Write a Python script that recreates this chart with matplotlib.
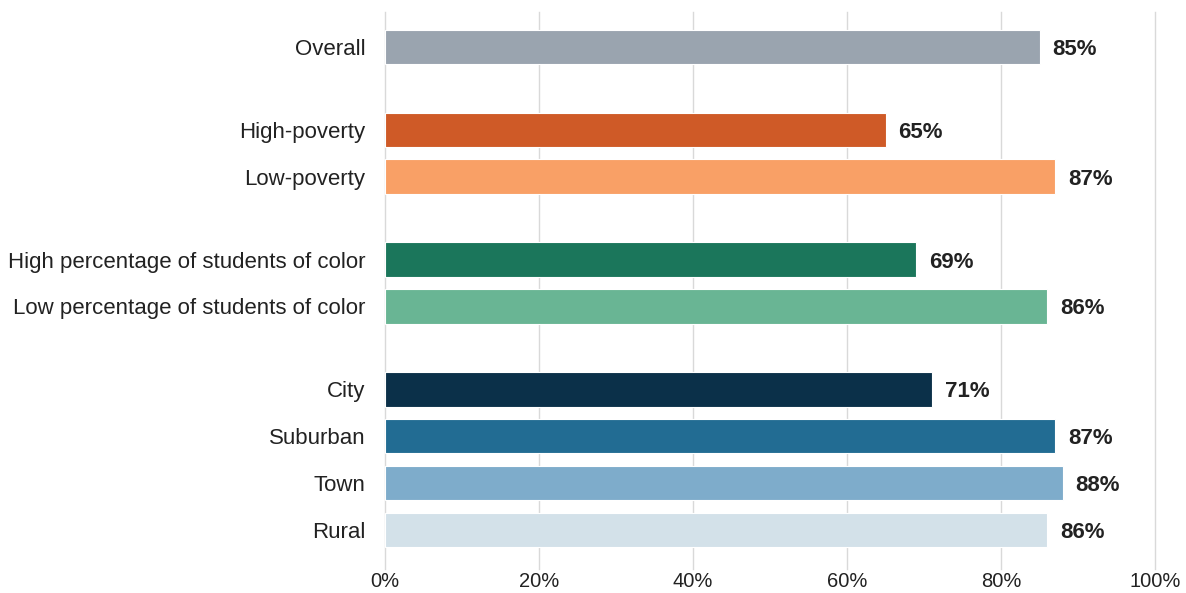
import matplotlib
matplotlib.use("Agg")
import matplotlib.pyplot as plt
from matplotlib.ticker import PercentFormatter

labels = ["Overall",
          "High-poverty", "Low-poverty",
          "High percentage of students of color", "Low percentage of students of color",
          "City", "Suburban", "Town", "Rural"]
values = [85, 65, 87, 69, 86, 71, 87, 88, 86]
groups = [1, 2, 2, 4]  # bars per group
colors = ["#9AA4AF",
          "#CF5A27", "#F9A066",
          "#1B765B", "#69B594",
          "#0B3049", "#226C93", "#7EACCB", "#D3E1E9"]

plt.rcParams["font.family"] = ["Liberation Sans", "DejaVu Sans"]

# y positions: unit spacing inside a group, extra gap between groups
gap = 0.77
ypos = []
y = 0.0
for n in groups:
    for i in range(n):
        ypos.append(y)
        y += 1
    y += gap

fig = plt.figure(figsize=(11.86, 5.93), dpi=100)
ax = fig.add_axes([385 / 1186, 24 / 593, 770 / 1186, 557 / 593])

ax.barh(ypos, values, height=0.73, color=colors, edgecolor="white", linewidth=0.8, zorder=3)
for yy, v in zip(ypos, values):
    ax.text(v + 1.7, yy, f"{v}%", va="center_baseline", ha="left", fontsize=16,
            fontweight="bold", color="#222222")

ax.set_xlim(0, 100)
ax.set_ylim(ypos[-1] + 0.83, -0.74)
ax.set_xticks(range(0, 101, 20))
ax.xaxis.set_major_formatter(PercentFormatter(decimals=0))
ax.set_yticks(ypos)
ax.set_yticklabels(labels)
ax.tick_params(axis="both", length=0, labelcolor="#222222")
ax.tick_params(axis="y", pad=14, labelsize=16)
ax.tick_params(axis="x", pad=2, labelsize=14.5)
ax.grid(axis="x", color="#D9D9D9", linewidth=1, zorder=0)
for gl in ax.get_xgridlines():
    gl.set_clip_on(False)
for s in ax.spines.values():
    s.set_visible(False)

fig.savefig("out.png", dpi=100)
